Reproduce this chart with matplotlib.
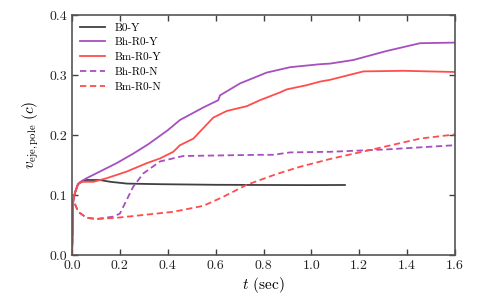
import matplotlib
matplotlib.use("Agg")
import matplotlib.pyplot as plt

plt.rcParams['font.family'] = ['cmr10', 'DejaVu Serif']
plt.rcParams['mathtext.fontset'] = 'cm'
plt.rcParams['axes.formatter.use_mathtext'] = True

# B0-Y
t_b0 = [0.0, 0.005, 0.01, 0.025, 0.04, 0.06, 0.117, 0.16, 0.23, 0.37, 0.6, 0.8, 1.0, 1.14]
v_b0 = [0.0, 0.09, 0.10, 0.118, 0.122, 0.125, 0.125, 0.122, 0.119, 0.118, 0.117, 0.1167, 0.1165, 0.1167]

# Bh-R0-Y
t_bhy = [0.0, 0.005, 0.013, 0.025, 0.035, 0.061, 0.131, 0.186, 0.256, 0.32, 0.4, 0.451, 0.549,
         0.611, 0.618, 0.702, 0.813, 0.911, 1.036, 1.078, 1.175, 1.314, 1.454, 1.6]
v_bhy = [0.0, 0.09, 0.105, 0.118, 0.122, 0.128, 0.142, 0.153, 0.169, 0.185, 0.208, 0.225, 0.246,
         0.258, 0.266, 0.286, 0.304, 0.313, 0.318, 0.319, 0.325, 0.34, 0.353, 0.354]

# Bm-R0-Y
t_bmy = [0.0, 0.005, 0.013, 0.025, 0.04, 0.09, 0.145, 0.228, 0.312, 0.368, 0.423, 0.451, 0.507,
         0.59, 0.646, 0.73, 0.785, 0.869, 0.897, 0.98, 1.036, 1.078, 1.217, 1.384, 1.6]
v_bmy = [0.0, 0.09, 0.105, 0.118, 0.122, 0.122, 0.128, 0.139, 0.153, 0.161, 0.172, 0.183, 0.194,
         0.229, 0.24, 0.248, 0.258, 0.271, 0.276, 0.283, 0.289, 0.292, 0.306, 0.307, 0.305]

# Bh-R0-N
t_bhn = [0.0, 0.005, 0.026, 0.061, 0.103, 0.173, 0.2, 0.256, 0.298, 0.368, 0.465, 0.785,
         0.841, 0.911, 1.078, 1.314, 1.6]
v_bhn = [0.0, 0.092, 0.072, 0.062, 0.06, 0.064, 0.069, 0.114, 0.136, 0.156, 0.165, 0.167,
         0.167, 0.171, 0.172, 0.176, 0.183]

# Bm-R0-N
t_bmn = [0.0, 0.005, 0.026, 0.061, 0.103, 0.186, 0.423, 0.549, 0.632, 0.73, 0.855, 0.952,
         1.078, 1.245, 1.454, 1.6]
v_bmn = [0.0, 0.092, 0.072, 0.062, 0.06, 0.062, 0.072, 0.082, 0.097, 0.117, 0.135, 0.147,
         0.16, 0.175, 0.194, 0.201]

labels = ['B0-Y', 'Bh-R0-Y', 'Bm-R0-Y', 'Bh-R0-N', 'Bm-R0-N']
xticks = [0.0, 0.2, 0.4, 0.6, 0.8, 1.0, 1.2, 1.4, 1.6]
yticks = [0.0, 0.1, 0.2, 0.3, 0.4]

black = '#404040'
purple = '#a64fbf'
red = '#ff4d4d'

fig = plt.figure(figsize=(4.8, 3.0), dpi=100)
ax = fig.add_axes([0.15, 0.15, 0.798, 0.8])

ax.plot(t_b0, v_b0, color=black, lw=1.3, label=labels[0])
ax.plot(t_bhy, v_bhy, color=purple, lw=1.3, label=labels[1])
ax.plot(t_bmy, v_bmy, color=red, lw=1.3, label=labels[2])
ax.plot(t_bhn, v_bhn, color=purple, lw=1.3, ls=(0, (3.5, 2)), label=labels[3])
ax.plot(t_bmn, v_bmn, color=red, lw=1.3, ls=(0, (3.5, 2)), label=labels[4])

ax.set_xlim(0, 1.6)
ax.set_ylim(0, 0.4)
ax.set_xticks(xticks)
ax.set_yticks(yticks)
ax.set_xticklabels([f"{x:.1f}" for x in xticks])
ax.set_yticklabels([f"{y:.1f}" for y in yticks])
ax.tick_params(direction='in', top=True, right=True, length=4, width=1.0,
               color=black, labelsize=10, labelcolor='#222222')
for s in ax.spines.values():
    s.set_color('#555555')
    s.set_linewidth(1.2)

ax.set_xlabel(r'$t$ (sec)', fontsize=11, labelpad=2)
ax.set_ylabel(r'$v_{\rm eje,pole}\ (c)$', fontsize=11, labelpad=6)

ax.legend(loc='upper left', frameon=False, fontsize=8, handlelength=2.3,
          labelspacing=0.45, borderaxespad=0.3)

fig.savefig('out.png', dpi=100)
